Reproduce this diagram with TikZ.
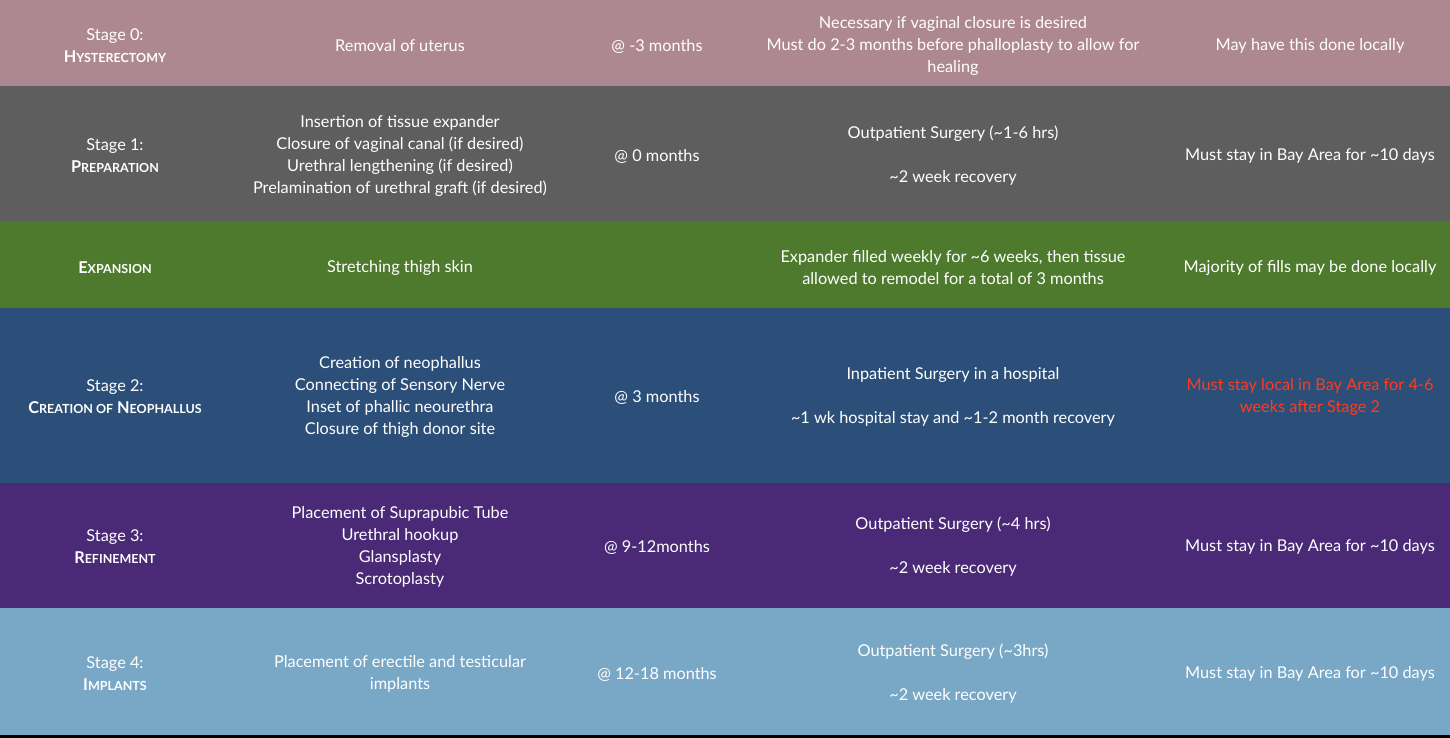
\documentclass[tikz,border=0pt]{standalone}
\usepackage{fontspec}
\setmainfont{Lato}
\usetikzlibrary{positioning}
\definecolor{rowpink}{HTML}{AE8890}
\definecolor{rowgray}{HTML}{5E5E5E}
\definecolor{rowgreen}{HTML}{4E7A2E}
\definecolor{rowblue}{HTML}{2B4F78}
\definecolor{rowpurple}{HTML}{4A2A77}
\definecolor{rowlight}{HTML}{79A7C6}
\definecolor{warnred}{HTML}{FF3B1F}
\newcommand{\fakesc}[2]{#1{\fontsize{12.5}{14}\selectfont #2}}
\tikzset{   band/.style = {draw=none, rectangle, anchor=north west, inner sep=0pt, minimum width=1450pt},
            cell/.style = {text=white, align=center, font=\fontsize{16.3}{22}\selectfont},
            stage/.style = {cell, font=\fontsize{16.3}{22}\selectfont}}
\begin{document}
\begin{tikzpicture}[x=1pt,y=-1pt]
    \useasboundingbox (0,0) rectangle (1450,738);
    \fill[black] (0,0) rectangle (1450,738);
    % bands
    \node[band, fill=rowpink, minimum height=86pt](r0)at(0,0){};
    \node[band, fill=rowgray, minimum height=135pt](r1)at(0,86){};
    \node[band, fill=rowgreen, minimum height=87pt](r2)at(0,221){};
    \node[band, fill=rowblue, minimum height=175pt](r3)at(0,308){};
    \node[band, fill=rowpurple, minimum height=125pt](r4)at(0,483){};
    \node[band, fill=rowlight, minimum height=127pt](r5)at(0,608){};

    % stage 0
    \node[stage](s0)at(115,46){Stage 0:\\\textbf{\fakesc{H}{YSTERECTOMY}}};
    \node[cell](d0)at(400,46){Removal of uterus};
    \node[cell](t0)at(657,46){@ -3 months};
    \node[cell](n0)at(953,46){Necessary if vaginal closure is desired\\Must do 2-3 months before phalloplasty to allow for\\healing};
    \node[cell](l0)at(1310,46){May have this done locally};

    % stage 1
    \node[stage](s1)at(115,156){Stage 1:\\\textbf{\fakesc{P}{REPARATION}}};
    \node[cell](d1)at(400,156){Insertion of tissue expander\\Closure of vaginal canal (if desired)\\Urethral lengthening (if desired)\\Prelamination of urethral graft (if desired)};
    \node[cell](t1)at(657,156){@ 0 months};
    \node[cell](n1)at(953,156){Outpatient Surgery (\textasciitilde1-6 hrs)\\[22pt]\textasciitilde2 week recovery};
    \node[cell](l1)at(1310,156){Must stay in Bay Area for \textasciitilde10 days};

    % expansion
    \node[stage](s2)at(115,268){\textbf{\fakesc{E}{XPANSION}}};
    \node[cell](d2)at(400,268){Stretching thigh skin};
    \node[cell](n2)at(953,268){Expander filled weekly for \textasciitilde6 weeks, then tissue\\allowed to remodel for a total of 3 months};
    \node[cell](l2)at(1310,268){Majority of fills may be done locally};

    % stage 2
    \node[stage](s3)at(115,397){Stage 2:\\\textbf{\fakesc{C}{REATION OF} \fakesc{N}{EOPHALLUS}}};
    \node[cell](d3)at(400,397){Creation of neophallus\\Connecting of Sensory Nerve\\Inset of phallic neourethra\\Closure of thigh donor site};
    \node[cell](t3)at(657,397){@ 3 months};
    \node[cell](n3)at(953,397){Inpatient Surgery in a hospital\\[22pt]\textasciitilde1 wk hospital stay and \textasciitilde1-2 month recovery};
    \node[cell, text=warnred](l3)at(1310,397){Must stay local in Bay Area for 4-6\\weeks after Stage 2};

    % stage 3
    \node[stage](s4)at(115,547){Stage 3:\\\textbf{\fakesc{R}{EFINEMENT}}};
    \node[cell](d4)at(400,547){Placement of Suprapubic Tube\\Urethral hookup\\Glansplasty\\Scrotoplasty};
    \node[cell](t4)at(657,547){@ 9-12months};
    \node[cell](n4)at(953,547){Outpatient Surgery (\textasciitilde4 hrs)\\[22pt]\textasciitilde2 week recovery};
    \node[cell](l4)at(1310,547){Must stay in Bay Area for \textasciitilde10 days};

    % stage 4
    \node[stage](s5)at(115,674){Stage 4:\\\textbf{\fakesc{I}{MPLANTS}}};
    \node[cell](d5)at(400,674){Placement of erectile and testicular\\implants};
    \node[cell](t5)at(657,674){@ 12-18 months};
    \node[cell](n5)at(953,674){Outpatient Surgery (\textasciitilde3hrs)\\[22pt]\textasciitilde2 week recovery};
    \node[cell](l5)at(1310,674){Must stay in Bay Area for \textasciitilde10 days};
\end{tikzpicture}
\end{document}
